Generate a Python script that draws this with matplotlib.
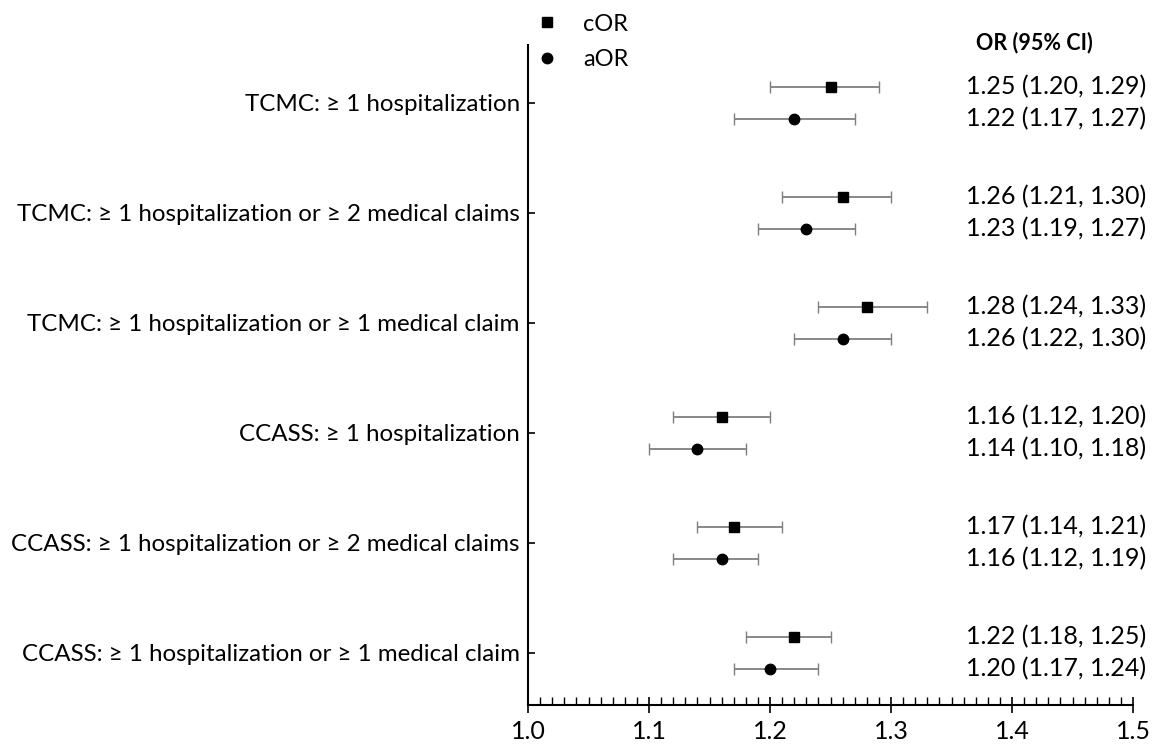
import numpy as np
import matplotlib.pyplot as plt
from matplotlib.lines import Line2D
from matplotlib.ticker import MultipleLocator, FormatStrFormatter
from matplotlib.transforms import blended_transform_factory

plt.rcParams['font.family'] = ['Lato', 'DejaVu Sans']

labels = [
    "TCMC: \u2265 1 hospitalization",
    "TCMC: \u2265 1 hospitalization or \u2265 2 medical claims",
    "TCMC: \u2265 1 hospitalization or \u2265 1 medical claim",
    "CCASS: \u2265 1 hospitalization",
    "CCASS: \u2265 1 hospitalization or \u2265 2 medical claims",
    "CCASS: \u2265 1 hospitalization or \u2265 1 medical claim",
]
cor = [1.25, 1.26, 1.28, 1.16, 1.17, 1.22]
cor_lo = [1.20, 1.21, 1.24, 1.12, 1.14, 1.18]
cor_hi = [1.29, 1.30, 1.33, 1.20, 1.21, 1.25]
aor = [1.22, 1.23, 1.26, 1.14, 1.16, 1.20]
aor_lo = [1.17, 1.19, 1.22, 1.10, 1.12, 1.17]
aor_hi = [1.27, 1.27, 1.30, 1.18, 1.19, 1.24]

cor = np.array(cor)
aor = np.array(aor)
y = np.arange(len(labels))
off = 0.145

fig = plt.figure(figsize=(11.61, 7.55), dpi=100)
ax = fig.add_axes([0.4548, 0.0662, 0.5211, 0.8742])

ax.errorbar(cor, y - off, xerr=[cor - cor_lo, np.array(cor_hi) - cor],
            fmt='s', color='black', ms=7.5, ecolor='#7f7f7f', elinewidth=1.3,
            capsize=4, capthick=1.0)
ax.errorbar(aor, y + off, xerr=[aor - aor_lo, np.array(aor_hi) - aor],
            fmt='o', color='black', ms=7.5, ecolor='#7f7f7f', elinewidth=1.3,
            capsize=4, capthick=1.0)

ax.set_xlim(1.0, 1.5)
ax.set_ylim(5.473, -0.527)
ax.xaxis.set_major_locator(MultipleLocator(0.1))
ax.xaxis.set_minor_locator(MultipleLocator(0.01))
ax.xaxis.set_major_formatter(FormatStrFormatter('%.1f'))
ax.set_yticks(y)
ax.set_yticklabels(labels)
ax.tick_params(axis='x', which='major', direction='inout', length=11, width=1.2,
               labelsize=18, pad=5)
ax.tick_params(axis='x', which='minor', direction='in', length=6, width=1.0)
ax.tick_params(axis='y', direction='in', length=5, width=1.2, labelsize=17.4, pad=6)
for s in ['top', 'right']:
    ax.spines[s].set_visible(False)
for s in ['left', 'bottom']:
    ax.spines[s].set_linewidth(1.5)

tr = blended_transform_factory(ax.transAxes, ax.transData)
for i in range(len(labels)):
    ax.text(1.022, i - off, f"{cor[i]:.2f} ({cor_lo[i]:.2f}, {cor_hi[i]:.2f})",
            transform=tr, ha='right', va='center', fontsize=18, clip_on=False)
    ax.text(1.022, i + off, f"{aor[i]:.2f} ({aor_lo[i]:.2f}, {aor_hi[i]:.2f})",
            transform=tr, ha='right', va='center', fontsize=18, clip_on=False)
fig.text(0.891, 0.944, "OR (95% CI)", ha='center', va='center',
         fontsize=15.5, fontweight='bold')

handles = [Line2D([], [], ls='none', marker='s', color='black', ms=7.5),
           Line2D([], [], ls='none', marker='o', color='black', ms=7.5)]
ax.legend(handles, ['cOR', 'aOR'], loc='upper left', bbox_to_anchor=(0.443, 1.01),
          bbox_transform=fig.transFigure, frameon=False, fontsize=17,
          handletextpad=1.0, labelspacing=0.6, handlelength=1.0)

fig.savefig('out.png', dpi=100)
